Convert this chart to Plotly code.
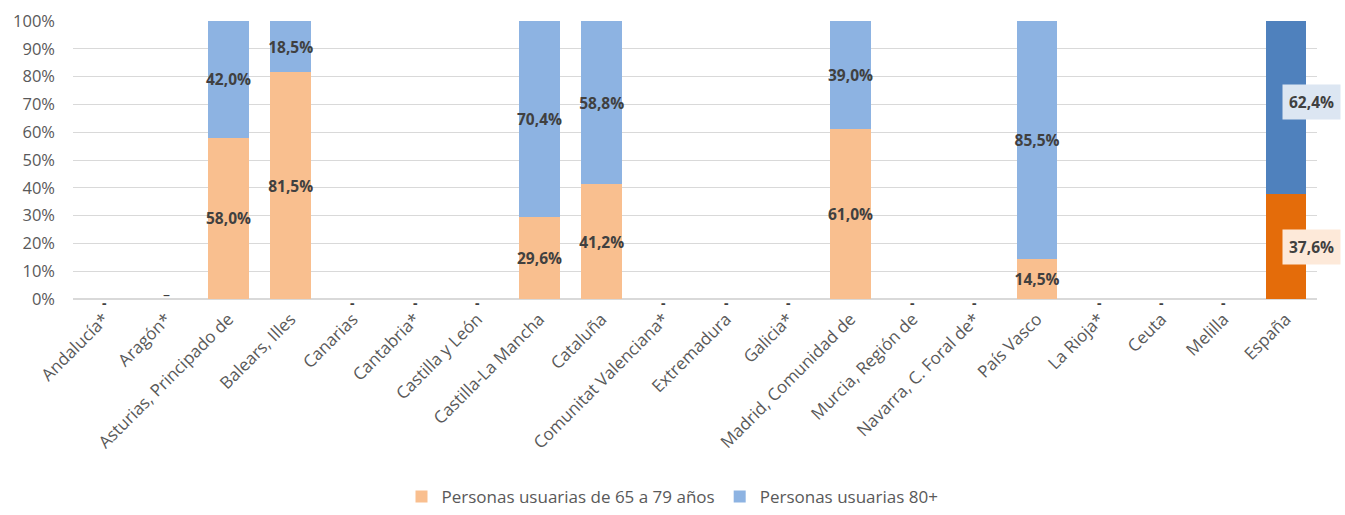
import plotly.graph_objects as go

categories = ["Andalucía*", "Aragón*", "Asturias, Principado de", "Balears, Illes", "Canarias",
              "Cantabria*", "Castilla y León", "Castilla-La Mancha", "Cataluña",
              "Comunitat Valenciana*", "Extremadura", "Galicia*", "Madrid, Comunidad de",
              "Murcia, Región de", "Navarra, C. Foral de*", "País Vasco", "La Rioja*",
              "Ceuta", "Melilla", "España"]
users_65_79 = [None, None, 58.0, 81.5, None, None, None, 29.6, 41.2, None, None, None, 61.0,
               None, None, 14.5, None, None, None, 37.6]
users_80 = [None, None, 42.0, 18.5, None, None, None, 70.4, 58.8, None, None, None, 39.0,
            None, None, 85.5, None, None, None, 62.4]
series_names = ["Personas usuarias de 65 a 79 años", "Personas usuarias 80+"]

def fmt(v):
    return "" if v is None else f"{v:.1f}".replace(".", ",") + "%"

FONT = "Open Sans"
c1, c2 = "#F9BF8F", "#8DB3E2"
c1e, c2e = "#E46C0A", "#4F81BD"
n = len(categories)
last = n - 1

fig = go.Figure()
for vals, name, col, colE in [(users_65_79, series_names[0], c1, c1e),
                              (users_80, series_names[1], c2, c2e)]:
    txt = [fmt(v) if i != last else "" for i, v in enumerate(vals)]
    fig.add_trace(go.Bar(
        x=categories, y=vals, name=name,
        marker=dict(color=[col] * last + [colE], line=dict(width=0)),
        text=txt, textposition="inside", insidetextanchor="middle",
        textangle=0,
        textfont=dict(family=FONT, size=15.5, color="#404040", weight="bold"),
        constraintext="none", cliponaxis=False,
    ))

annotations = []
# España labels with boxes
base = 0
for vals, bg, ys in [(users_65_79, "#FDE9D9", 0), (users_80, "#DCE6F2", 6)]:
    v = vals[last]
    annotations.append(dict(x=categories[last], y=base + v / 2, text="<b>" + fmt(v) + "</b>",
                            showarrow=False, xshift=26, yshift=ys, bgcolor=bg, borderpad=6,
                            font=dict(family=FONT, size=15.5, color="#404040")))
    base += v
# dashes for missing values
for i, c in enumerate(categories):
    if users_65_79[i] is None:
        if c == "Aragón*":
            annotations.append(dict(x=c, y=0, text="–", showarrow=False, yshift=5,
                                    font=dict(family=FONT, size=14, color="#404040")))
        else:
            annotations.append(dict(x=c, y=0, text="-", showarrow=False, yshift=-3,
                                    font=dict(family=FONT, size=14, color="#404040", weight="bold")))

fig.update_layout(
    barmode="stack", bargap=0.35,
    width=1345, height=515,
    margin=dict(l=73, r=28, t=21, b=216, autoexpand=False),
    plot_bgcolor="white", paper_bgcolor="white",
    font=dict(family=FONT, size=16, color="#595959"),
    annotations=annotations,
    legend=dict(orientation="h", x=0.5, xanchor="center", xref="container",
                y=12, yanchor="middle", yref="container",
                font=dict(family=FONT, size=17, color="#595959"),
                traceorder="normal"),
    xaxis=dict(tickangle=-45, showgrid=False, showline=False, ticks="", automargin=False,
               ticklabelstandoff=6, range=[-0.5, n - 0.5], autorange=False,
               tickfont=dict(family=FONT, size=17, color="#595959")),
    yaxis=dict(range=[0, 100], autorange=False, dtick=10, ticksuffix="%", showgrid=True,
               gridcolor="#D9D9D9", gridwidth=1, zeroline=True, zerolinecolor="#D9D9D9",
               showline=False, automargin=False, ticklabelstandoff=17,
               tickfont=dict(family=FONT, size=16.5, color="#595959")),
)

fig.write_html("out.html", config={"displayModeBar": False},
               post_script="document.body.style.margin='0';document.body.style.overflow='hidden';")
